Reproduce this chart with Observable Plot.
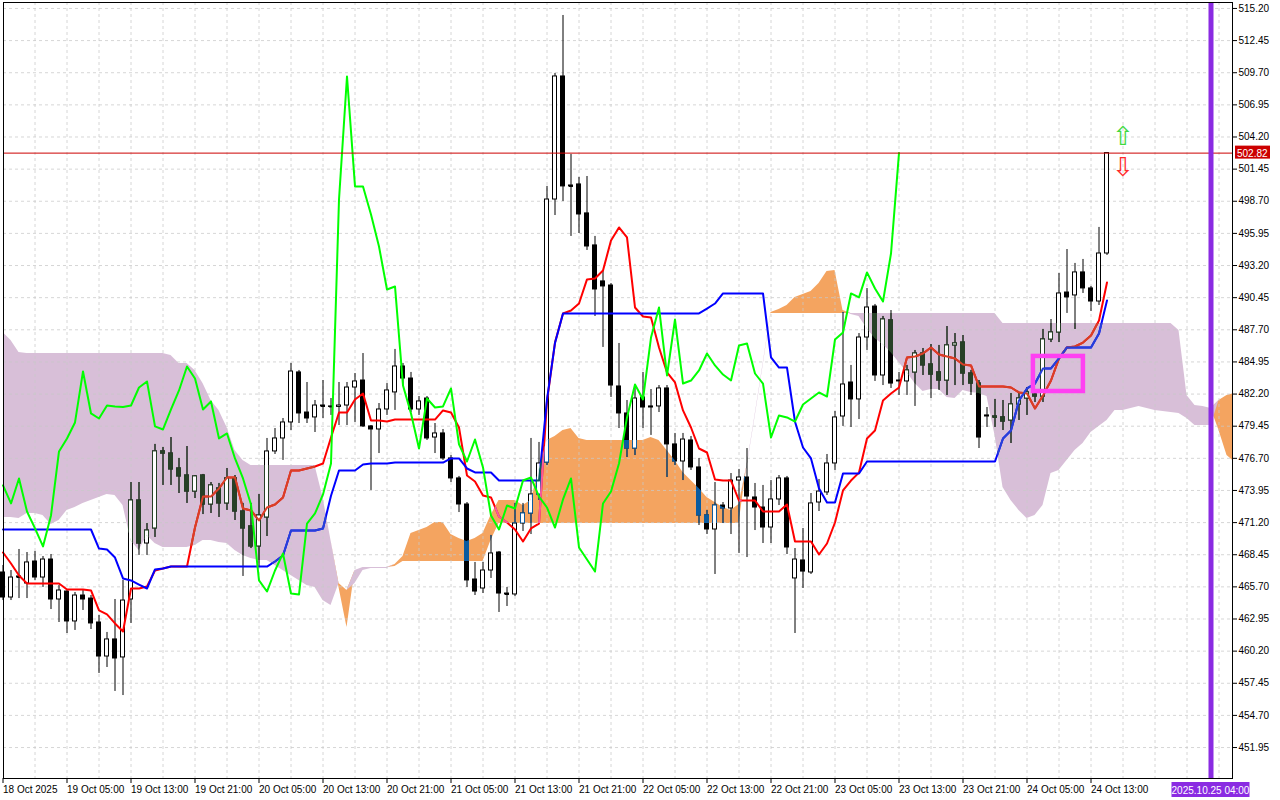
<!DOCTYPE html>
<html><head><meta charset="utf-8">
<script src="https://cdn.jsdelivr.net/npm/d3@7"></script>
<script src="https://cdn.jsdelivr.net/npm/@observablehq/plot@0.6"></script>
<style>
html,body{margin:0;padding:0;background:#fff;}
#chart{position:absolute;left:0;top:0;}
</style></head>
<body><div id="chart"></div>
<script>
// ---- Hourly OHLC, bar 0 = 18 Oct 21:00 ----
const opens = [
466.93,464.79,466.59,465.99,467.87,466.50,468.04,464.62,465.30,462.74,
464.96,464.70,462.65,459.74,461.20,459.66,464.62,473.09,469.41,470.70,
477.29,477.11,475.83,475.23,473.86,475.23,472.75,474.12,472.84,474.98,
472.15,470.87,469.16,471.64,477.29,478.40,479.77,484.05,480.62,480.20,
481.22,481.14,481.10,481.22,482.76,483.36,479.43,479.17,480.88,482.34,
484.56,483.53,480.88,481.82,478.48,478.83,476.69,474.98,472.75,466.33,
465.56,467.10,468.64,465.13,465.05,471.12,471.98,473.61,476.34,498.85,
509.38,500.05,500.14,497.66,494.92,491.84,491.49,482.85,480.54,477.54,
481.91,481.05,481.14,482.68,477.89,476.43,478.23,475.92,471.81,470.61,
472.66,472.41,474.80,475.06,473.35,472.49,470.78,473.18,474.98,466.42,
467.96,466.93,472.92,473.78,476.26,480.28,483.19,481.74,487.04,489.69,
483.79,488.50,483.28,483.28,484.05,485.67,484.73,484.05,483.36,486.36,
486.61,483.96,483.10,480.28,480.28,480.20,479.94,481.31,481.82,482.16,
481.99,486.87,487.47,490.89,490.64,492.61,491.24,490.12,494.23];
const highs = [
467.53,467.10,468.90,468.64,468.73,468.30,468.47,465.82,465.48,465.22,
465.39,464.96,463.25,461.80,464.62,466.25,474.63,474.63,471.12,477.89,
477.63,478.48,476.69,477.71,475.23,475.32,474.63,474.55,475.83,475.23,
472.84,472.84,473.61,478.40,479.25,480.11,484.82,484.22,483.19,481.65,
483.36,481.82,483.19,483.19,483.96,485.67,479.51,481.39,483.10,486.02,
484.82,484.05,481.99,481.99,479.68,479.17,476.94,475.15,472.92,467.79,
467.79,470.10,468.73,465.65,472.84,472.84,478.40,478.06,499.97,509.64,
514.60,502.71,500.74,500.82,495.69,492.78,491.66,486.53,481.65,482.93,
484.05,482.59,482.93,482.93,478.83,478.83,478.57,476.69,472.24,474.63,
472.92,475.40,475.75,477.54,474.55,474.38,474.80,475.23,475.15,468.98,
470.70,473.69,474.89,477.03,480.71,489.18,484.65,487.38,491.23,489.87,
488.84,489.35,484.05,484.65,485.93,486.10,486.44,486.36,487.98,487.38,
487.21,484.22,483.36,481.05,481.74,481.65,482.25,482.25,482.76,482.51,
487.73,488.58,492.52,494.57,493.38,493.72,491.41,496.46,502.82];
const lows = [
464.53,464.53,464.70,464.70,466.25,465.65,463.76,462.65,461.71,461.97,
463.68,462.05,458.29,458.80,456.75,456.40,462.57,468.39,468.39,469.93,
474.38,474.38,473.69,472.84,473.26,471.89,471.98,471.64,472.24,471.38,
466.59,468.98,467.36,470.01,477.03,476.52,479.08,479.68,479.68,478.91,
480.11,480.37,479.51,479.51,479.77,479.34,473.95,477.11,480.37,480.80,
482.93,480.62,480.37,478.23,477.11,476.52,474.63,472.06,465.65,464.96,
465.13,466.42,463.51,464.02,464.87,470.44,470.18,473.09,476.09,497.48,
498.68,495.69,495.94,494.49,488.84,486.19,481.91,479.25,476.77,476.94,
479.25,478.66,480.62,475.06,476.09,474.80,475.66,470.95,470.18,466.76,
471.12,470.18,468.56,468.21,470.52,469.41,469.41,472.66,468.47,461.71,
465.56,466.76,472.15,473.52,475.66,479.43,479.34,480.02,485.93,483.28,
482.93,482.68,482.08,482.08,481.14,483.79,481.82,482.51,482.08,482.93,
482.93,482.08,477.54,479.34,479.34,479.08,477.97,479.94,480.37,481.48,
481.48,486.61,486.61,489.10,487.73,490.81,489.27,489.78,494.06];
const closes = [
464.79,466.50,466.50,467.79,466.50,468.04,464.62,465.39,462.74,464.96,
464.62,462.57,459.74,461.20,459.57,464.53,473.09,469.41,470.52,477.29,
477.11,475.75,475.15,473.86,475.15,472.75,474.38,472.84,474.98,472.15,
470.70,469.16,471.81,477.29,478.40,479.77,484.13,480.54,480.11,481.22,
481.14,481.10,481.22,482.76,483.28,479.43,479.17,480.88,482.51,484.56,
483.53,480.88,481.57,478.40,478.83,476.69,474.98,472.75,466.25,465.30,
467.10,468.56,465.13,465.05,471.12,471.98,473.61,476.26,498.85,509.38,
499.97,499.97,497.57,494.83,491.15,491.41,482.93,480.54,477.54,481.82,
481.05,481.14,482.68,477.89,476.43,478.31,475.92,471.81,470.61,472.66,
472.41,474.80,475.06,473.43,472.49,470.78,473.18,474.98,469.07,468.04,
467.01,472.84,473.86,476.26,480.20,483.02,481.74,487.04,489.61,483.79,
488.58,483.10,483.36,484.22,485.67,484.65,483.87,483.36,486.36,486.53,
483.96,483.10,478.48,480.37,480.20,479.85,481.31,481.82,482.34,481.99,
486.87,487.47,490.81,490.47,492.61,491.24,490.12,494.23,502.82];

// ---- Ichimoku lines ----
const tenkan = [
468.64,467.70,466.67,465.99,465.99,465.99,465.99,465.99,465.48,465.48,
465.48,465.39,463.68,463.34,462.57,461.88,465.56,465.56,465.73,467.10,
467.27,467.44,467.44,467.44,470.78,473.43,473.43,474.12,475.06,475.06,
472.41,472.24,471.38,472.49,472.75,473.35,475.66,475.66,475.83,476.00,
476.26,478.48,480.62,480.62,481.74,482.25,479.94,479.94,479.85,480.02,
480.02,480.02,480.02,480.02,480.02,480.80,480.62,479.34,475.23,474.72,
473.52,473.35,471.72,471.21,470.61,469.58,470.70,471.12,481.60,486.61,
489.10,489.35,489.95,492.01,492.09,492.78,495.34,496.46,495.60,489.61,
488.84,488.75,486.19,484.05,483.19,480.80,479.34,477.54,477.20,474.89,
474.80,474.80,473.09,473.09,473.09,472.15,472.15,472.15,472.75,469.58,
469.58,469.58,468.47,469.41,471.21,473.95,474.80,475.48,478.40,479.08,
481.65,482.25,482.76,485.33,485.42,485.67,486.19,485.59,485.42,485.25,
484.73,484.65,482.85,482.85,482.85,482.85,482.76,482.34,482.25,480.97,
482.08,483.36,485.25,486.19,486.27,486.61,487.21,488.50,491.75];
const kijun = [
470.61,470.61,470.61,470.61,470.61,470.61,470.61,470.61,470.61,470.61,
470.61,470.61,468.98,468.90,468.21,466.42,466.25,465.90,465.56,467.19,
467.27,467.44,467.44,467.44,467.44,467.44,467.44,467.44,467.44,467.44,
467.44,467.44,467.44,467.44,467.87,468.39,470.52,470.52,470.52,470.52,
470.70,473.50,475.66,475.66,475.66,476.17,476.26,476.26,476.26,476.34,
476.34,476.34,476.34,476.34,476.34,476.34,476.69,476.69,475.83,475.49,
475.49,475.49,474.80,474.80,474.80,474.80,474.80,474.80,481.74,486.58,
489.10,489.10,489.10,489.10,489.10,489.10,489.10,489.10,489.10,489.10,
489.10,489.10,489.10,489.10,489.10,489.10,489.10,489.10,489.52,489.95,
490.81,490.81,490.81,490.81,490.81,490.81,485.33,484.47,484.47,479.83,
477.63,476.69,474.12,472.92,472.92,475.40,475.40,475.40,476.43,476.43,
476.43,476.43,476.43,476.43,476.43,476.43,476.43,476.43,476.43,476.43,
476.43,476.43,476.43,476.43,476.43,478.40,479.08,481.65,482.68,483.10,
484.39,484.39,485.25,486.19,486.19,486.19,486.19,487.38,490.21];
// Senkou spans (already shifted forward), bars 0..154
const spanA = [
471.64,471.64,471.55,471.98,471.98,471.81,471.04,471.38,472.24,472.49,
472.84,473.09,473.35,473.61,473.52,472.66,469.67,468.81,470.10,469.41,
469.07,469.07,469.07,469.07,469.24,469.67,469.67,469.50,469.41,468.81,
468.39,468.13,467.96,467.96,467.53,467.10,466.67,466.25,465.82,465.65,
464.53,464.10,465.99,465.39,465.99,467.10,467.27,467.27,467.27,467.61,
468.30,470.27,470.52,470.78,471.21,471.21,470.18,469.84,469.58,469.84,
470.27,471.81,473.09,473.09,473.09,472.66,473.09,475.66,478.23,478.57,
479.08,479.25,478.40,478.23,478.23,478.23,478.23,478.23,478.23,478.23,
478.23,478.48,478.23,477.37,476.52,475.48,474.80,474.12,473.35,472.92,
472.49,472.24,472.75,475.92,480.20,484.56,489.18,489.44,489.78,490.47,
490.72,490.98,491.66,492.69,492.78,489.35,489.01,488.84,487.81,486.96,
486.44,485.76,484.90,484.05,483.10,482.42,482.59,482.59,481.91,481.82,
482.51,482.34,482.25,481.99,478.66,474.20,473.09,472.24,471.55,471.81,
472.66,475.40,475.66,476.52,477.37,477.97,478.91,479.43,479.94,480.80,
480.80,480.97,481.14,480.97,480.80,480.71,480.62,480.54,480.11,479.51,
479.51,479.51,481.65,482.08,482.25];
const spanB = [
487.47,486.79,485.76,485.67,485.67,485.67,485.67,485.67,485.67,485.67,
485.67,485.67,485.67,485.67,485.67,485.67,485.67,485.67,485.67,485.67,
485.67,485.50,484.82,484.82,484.22,483.10,481.65,480.80,479.34,477.37,
476.52,476.09,476.09,476.09,476.09,476.09,476.09,476.09,476.09,476.09,
473.35,469.67,465.65,462.22,467.10,467.36,467.36,467.36,467.36,467.44,
467.87,467.87,467.87,467.87,467.87,467.87,467.87,467.87,467.87,467.87,
467.87,469.67,471.12,471.12,471.12,471.12,471.12,471.12,471.12,471.12,
471.12,471.12,471.12,471.12,471.12,471.12,471.12,471.12,471.12,471.12,
471.12,471.12,471.12,471.12,471.12,471.12,471.12,471.12,471.12,471.12,
471.12,471.12,471.12,476.09,480.37,484.73,489.10,489.10,489.10,489.10,
489.10,489.10,489.10,489.10,489.10,489.10,489.10,489.10,489.10,489.10,
489.10,489.10,489.10,489.10,489.10,489.10,489.10,489.10,489.10,489.10,
489.10,489.10,489.10,489.10,489.10,488.24,488.24,488.24,488.24,488.24,
488.24,488.24,488.24,488.24,488.24,488.24,488.24,488.24,488.24,488.24,
488.24,488.24,488.24,488.24,488.24,488.24,488.24,487.64,482.08,481.22,
481.14,480.97,479.08,476.94,476.34];
const chikouShift = 26;

// ---- axes / annotations ----
const yTicks = [451.95,454.70,457.45,460.20,462.95,465.70,468.45,471.20,473.95,476.70,479.45,482.20,
  484.95,487.70,490.45,493.20,495.95,498.70,501.45,504.20,506.95,509.70,512.45,515.20];
const xTickBars = [0,8,16,24,32,40,48,56,64,72,80,88,96,104,112,120,128,136];
const xTickLabels = ["18 Oct 2025","19 Oct 05:00","19 Oct 13:00","19 Oct 21:00","20 Oct 05:00","20 Oct 13:00",
  "20 Oct 21:00","21 Oct 05:00","21 Oct 13:00","21 Oct 21:00","22 Oct 05:00","22 Oct 13:00","22 Oct 21:00",
  "23 Oct 05:00","23 Oct 13:00","23 Oct 21:00","24 Oct 05:00","24 Oct 13:00"];
const gridBars = [4,8,12,16,20,24,28,32,36,40,44,48,52,56,60,64,68,72,76,80,84,88,92,96,100,104,108,112,116,120,124,128,132,136,140,144,148,152];
const lastPrice = 502.82;
const markerBar = [151];
const markerLabel = "2025.10.25 04:00";
const boxBars = [128.8, 135.05];
const boxPrices = [482.42, 485.42];
const arrowBars = [140, 140];
const arrowPrices = [504.2, 501.6];
const arrowGlyphs = ["\u21E7", "\u21E9"];
const arrowColors = ["#3fd83f", "#ff2a2a"];

// ---- build tables ----
const candles = opens.map((o, i) => ({i, o, h: highs[i], l: lows[i], c: closes[i]}));
const dojis = candles.filter(d => Math.abs(d.o - d.c) < 0.12);
const tk = tenkan.map((v, i) => ({i, v}));
const kj = kijun.map((v, i) => ({i, v}));
const cloud = spanA.map((a, i) => ({i, a, b: spanB[i]}));
const chikou = closes.slice(chikouShift).map((c, i) => ({i, c}));
const arrows = arrowBars.map((b, k) => ({i: b, p: arrowPrices[k], s: arrowGlyphs[k], col: arrowColors[k]}));
const box = [{x1: boxBars[0], x2: boxBars[1], y1: boxPrices[0], y2: boxPrices[1]}];

const chart = Plot.plot({
  width: 1280, height: 800,
  marginLeft: 3, marginRight: 48, marginTop: 2, marginBottom: 22,
  x: {domain: [0.0625, 153.6875], label: null},
  y: {domain: [449.30, 515.71], label: null},
  style: {fontFamily: "'Liberation Sans', Arial, sans-serif", fontSize: "10px", background: "white", color: "black"},
  marks: [
    Plot.frame({fill: "white"}),
    // cloud
    Plot.areaY(cloud, {x: "i", y1: "b", y2: d => Math.max(d.a, d.b), fill: "#f4a460", clip: true, ariaDescription: "cloud-orange"}),
    Plot.areaY(cloud, {x: "i", y1: "a", y2: d => Math.max(d.a, d.b), fill: "#d8bfd8", clip: true, ariaDescription: "cloud-purple"}),
    Plot.ruleY(yTicks, {stroke: "#c8c8c8", strokeOpacity: 0.75, strokeDasharray: "3,3"}),
    Plot.ruleX(gridBars, {stroke: "#c8c8c8", strokeOpacity: 0.75, strokeDasharray: "3,3"}),
    // candles
    Plot.ruleX(candles, {x: "i", y1: "l", y2: "h", stroke: "black", strokeWidth: 1, ariaDescription: "wicks"}),
    Plot.rect(candles, {x1: d => d.i - 0.25, x2: d => d.i + 0.25, y1: "o", y2: "c",
      fill: d => d.c >= d.o ? "white" : "black", stroke: "black", strokeWidth: 1, ariaDescription: "bodies"}),
    Plot.link(dojis, {x1: d => d.i - 0.25, x2: d => d.i + 0.25, y1: "c", y2: "c", stroke: "black", strokeWidth: 1, ariaDescription: "dojis"}),
    // tenkan / kijun / chikou
    Plot.line(tk, {x: "i", y: "v", stroke: "#ff0000", strokeWidth: 2, ariaDescription: "tenkan"}),
    Plot.line(kj, {x: "i", y: "v", stroke: "#0000ff", strokeWidth: 2, ariaDescription: "kijun"}),
    Plot.line(chikou, {x: "i", y: "c", stroke: "#00ff00", strokeWidth: 2, ariaDescription: "chikou"}),
    // price line & time marker
    Plot.ruleY([lastPrice], {stroke: "#cc0000", strokeWidth: 1}),
    Plot.ruleX(markerBar, {stroke: "#8a2be2", strokeWidth: 5}),
    Plot.rect(box, {x1: "x1", x2: "x2", y1: "y1", y2: "y2", fill: "none", stroke: "#ff40f2", strokeWidth: 4.5}),
    Plot.text(arrows, {x: "i", y: "p", text: "s", fill: "col", fontSize: 26, fontFamily: "DejaVu Sans"}),
    Plot.frame({stroke: "black"}),
    Plot.axisX(xTickBars, {anchor: "bottom", tickSize: 5, tickPadding: 2, textAnchor: "start",
      tickFormat: d => xTickLabels[xTickBars.indexOf(d)], label: null, fontSize: 10}),
    Plot.axisY(yTicks, {anchor: "right", tickSize: 4, tickPadding: 2, tickFormat: d => d.toFixed(2), label: null, fontSize: 10})
  ]
});
document.getElementById("chart").append(chart);

// ---- MT4-like tint of candles / lines lying inside the cloud ----
const NS = "http://www.w3.org/2000/svg";
const defs = document.createElementNS(NS, "defs");
chart.insertBefore(defs, chart.firstChild);
function markGroup(desc) {
  return chart.querySelector(`g[aria-description="${desc}"]`);
}
function recolor(node, map) {
  for (const el of [node, ...node.querySelectorAll("*")]) {
    for (const attr of ["fill", "stroke"]) {
      const v = el.getAttribute(attr);
      if (v && map[v.toLowerCase()] !== undefined) el.setAttribute(attr, map[v.toLowerCase()]);
    }
  }
}
function tint(areaDesc, id, map) {
  const ag = markGroup(areaDesc);
  if (!ag) return;
  const p = ag.querySelector("path");
  if (!p) return;
  const cp = document.createElementNS(NS, "clipPath");
  cp.setAttribute("id", id);
  const cpPath = document.createElementNS(NS, "path");
  cpPath.setAttribute("d", p.getAttribute("d"));
  const tr = ag.getAttribute("transform");
  if (tr) cpPath.setAttribute("transform", tr);
  cp.append(cpPath);
  defs.append(cp);
  const wrap = document.createElementNS(NS, "g");
  wrap.setAttribute("clip-path", `url(#${id})`);
  for (const desc of ["wicks", "bodies", "dojis", "tenkan", "kijun"]) {
    const g = markGroup(desc);
    if (!g) continue;
    const clone = g.cloneNode(true);
    clone.removeAttribute("aria-description");
    recolor(clone, map);
    wrap.append(clone);
  }
  const anchor = markGroup("chikou");
  if (anchor) anchor.parentNode.insertBefore(wrap, anchor);
  else chart.append(wrap);
}
tint("cloud-purple", "tint-purple", {"black": "#274027", "#ff0000": "#d84027", "#0000ff": "#2740d8"});
tint("cloud-orange", "tint-orange", {"black": "#0b5b9f", "#ff0000": "#f45b9f", "#0000ff": "#0b5b60"});

const sx = chart.scale("x"), sy = chart.scale("y");
const svg = d3.select(chart);
const xr = sx.range[1];
const yp = sy.apply(lastPrice);
svg.append("rect").attr("x", xr + 3).attr("y", yp - 7).attr("width", 35).attr("height", 13).attr("fill", "#cc0000");
svg.append("text").attr("x", xr + 5).attr("y", yp + 4).attr("fill", "white").attr("text-anchor", "start")
  .attr("font-size", 10).attr("font-family", "'Liberation Sans', Arial, sans-serif").text(lastPrice.toFixed(2));
const xm = sx.apply(markerBar[0]);
svg.append("rect").attr("x", xm - 39).attr("y", 782).attr("width", 78).attr("height", 15).attr("fill", "#8a2be2");
svg.append("text").attr("x", xm).attr("y", 793.5).attr("fill", "white").attr("text-anchor", "middle")
  .attr("font-size", 10).attr("font-family", "'Liberation Sans', Arial, sans-serif").text(markerLabel);
</script>
</body></html>
